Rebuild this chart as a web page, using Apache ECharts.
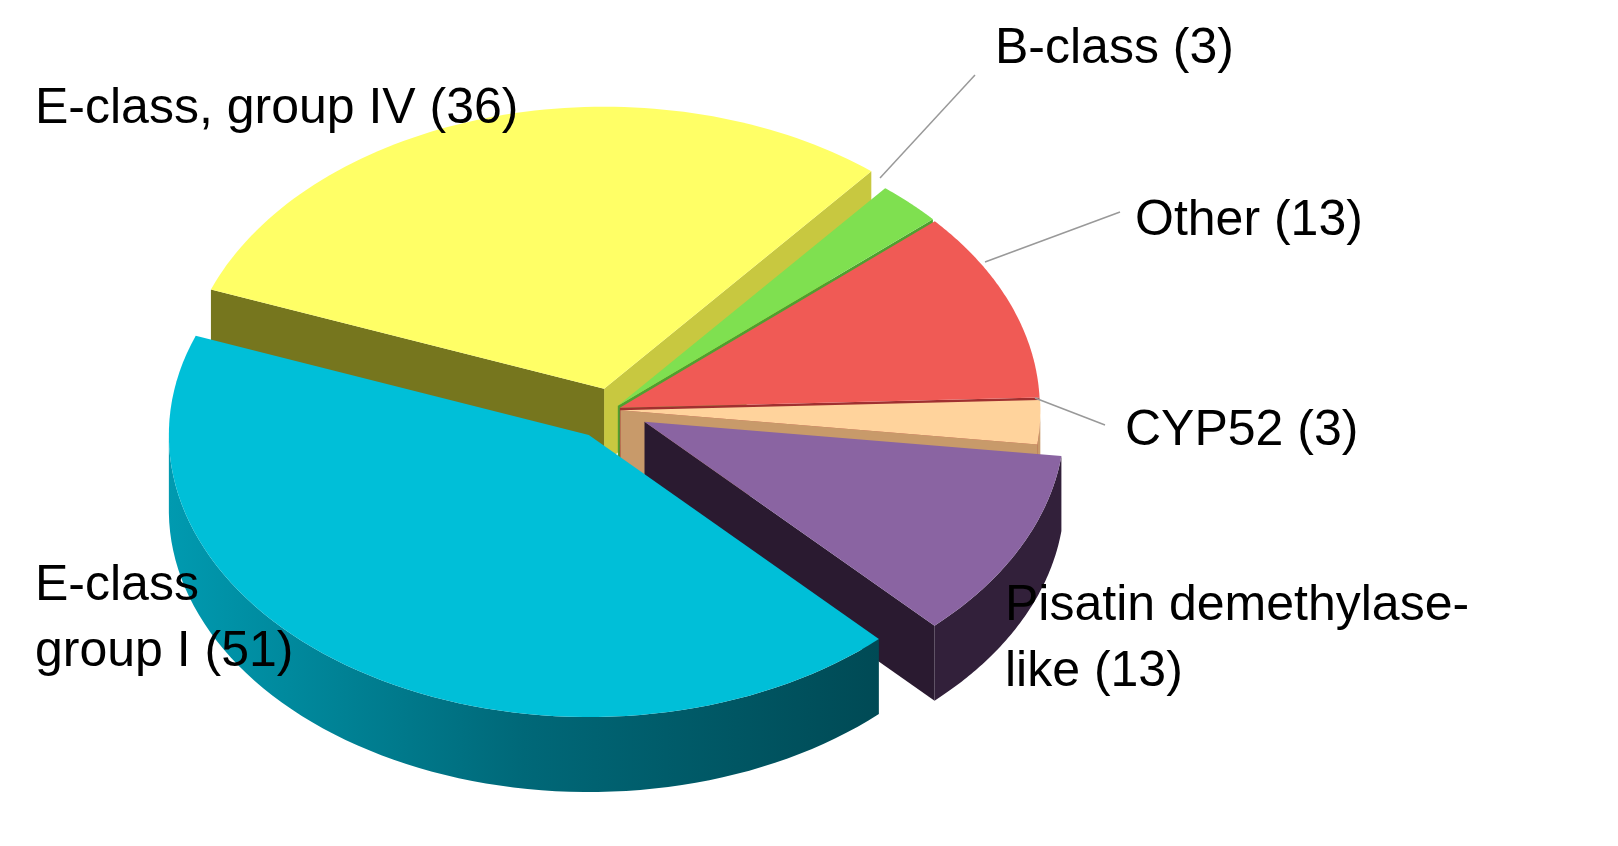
<!DOCTYPE html>
<html><head><meta charset="utf-8">
<script src="https://cdn.jsdelivr.net/npm/echarts@6/dist/echarts.min.js"></script>
<style>html,body{margin:0;background:#fff}#c{width:1618px;height:846px}</style>
</head><body><div id="c"></div>
<script>
// data, counter-clockwise order starting at the CYP52 slice
const categories = ['CYP52', 'Other', 'B-class', 'E-class, group IV', 'E-class group I', 'Pisatin demethylase-like'];
const values = [3, 13, 3, 36, 51, 13];
const labelTexts = ['CYP52 (3)', 'Other (13)', 'B-class (3)', 'E-class, group IV (36)', 'E-class\ngroup I (51)', 'Pisatin demethylase-\nlike (13)'];

const topColors  = ['#FFD39C', '#F05A55', '#7FE050', '#FFFF66', '#00BFD8', '#8A64A2'];
const wallColors = ['#C89A6A', '#A03030', '#4FA030', '#C8C840', '#007F90', '#32203A'];
const faceColors = ['#8A6040', '#7A2020', '#3E8A28', '#76761E', '#005A66', '#2A1A30'];
const explode = [6, 6, 6, 22, 30, 26];
const startDeg = -7, CX = 612, CY = 410, RX = 420, RY = 282, DEPTH = 75;

const chart = echarts.init(document.getElementById('c'));
function render(params, api) {
  const total = values.reduce((a, b) => a + b, 0);
  let a0 = startDeg * Math.PI / 180;
  const slices = values.map((v, i) => {
    const a1 = a0 + v / total * 2 * Math.PI;
    const mid = (a0 + a1) / 2;
    const s = { i, a0, a1, mid, cx: CX + explode[i] * Math.cos(mid) * 1.4, cy: CY - explode[i] * Math.sin(mid) };
    a0 = a1; return s;
  });
  const P = (s, a, d) => [s.cx + RX * Math.cos(a), s.cy - RY * Math.sin(a) + (d || 0)];
  const order = slices.slice().sort((p, q) => Math.sin(q.mid) - Math.sin(p.mid));
  const children = [];
  order.forEach(s => {
    const i = s.i;
    [[s.a0, Math.cos(s.a0) > 0, wallColors[i]], [s.a1, Math.cos(s.a1) < 0, faceColors[i]]].forEach(([a, vis, col]) => {
      if (!vis) return;
      const c = [s.cx, s.cy], r = P(s, a);
      children.push({ type: 'polygon', shape: { points: [c, r, [r[0], r[1] + DEPTH], [c[0], c[1] + DEPTH]] }, style: { fill: i === 5 ? faceColors[i] : col } });
    });
    const N = 80, top = [], bot = [];
    for (let k = 0; k <= N; k++) {
      const a = s.a0 + (s.a1 - s.a0) * k / N;
      if (Math.sin(a) <= 0.02) { top.push(P(s, a)); bot.push(P(s, a, DEPTH)); }
    }
    if (top.length > 1) {
      const fill = i === 4 ? new echarts.graphic.LinearGradient(0, 0, 1, 0, [
        { offset: 0, color: '#009AB0' }, { offset: 0.5, color: '#006878' }, { offset: 1, color: '#004A55' }]) : wallColors[i];
      children.push({ type: 'polygon', shape: { points: top.concat(bot.reverse()) }, style: { fill } });
    }
    const pts = [[s.cx, s.cy]];
    for (let k = 0; k <= N; k++) pts.push(P(s, s.a0 + (s.a1 - s.a0) * k / N));
    children.push({ type: 'polygon', shape: { points: pts }, style: { fill: topColors[i] } });
  });
  return { type: 'group', children };
}
const font = { fontFamily: 'Liberation Sans, Arial', fontSize: 50, fill: '#000', lineHeight: 66 };
const lbl = (i, x, y) => ({ type: 'text', x, y, z: 100, style: Object.assign({ text: labelTexts[i] }, font) });
const ln = (x1, y1, x2, y2) => ({ type: 'line', z: 100, shape: { x1, y1, x2, y2 }, style: { stroke: '#999', lineWidth: 1.5 } });
chart.setOption({
  animation: false,
  series: [{ type: 'custom', coordinateSystem: 'none', data: [0], renderItem: render, z: 1 }],
  graphic: [
    ln(880, 178, 975, 75), ln(985, 262, 1120, 212), ln(1035, 398, 1105, 425),
    lbl(2, 995, 16), lbl(3, 35, 76), lbl(1, 1135, 188), lbl(0, 1125, 398),
    lbl(5, 1005, 573), lbl(4, 35, 553)
  ]
});
</script></body></html>
